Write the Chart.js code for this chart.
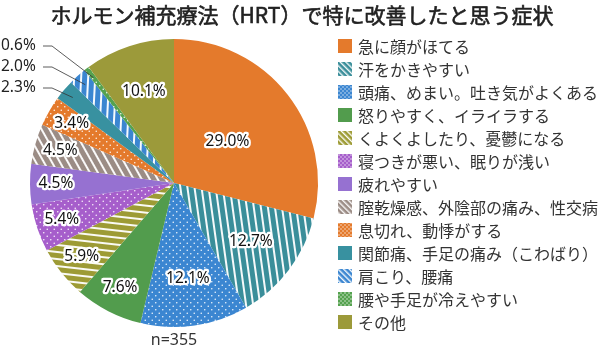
<!DOCTYPE html>
<html>
<head>
<meta charset="utf-8">
<script src="https://cdn.jsdelivr.net/npm/chart.js@4.4.1/dist/chart.umd.min.js"></script>
<style>
  html, body { margin: 0; padding: 0; background: #fff; }
</style>
</head>
<body>
<canvas id="hrtPie" width="600" height="348"></canvas>
<script>
const chartTitle = 'ホルモン補充療法（HRT）で特に改善したと思う症状';
const sampleNote = 'n=355';

const symptoms = [
  '急に顔がほてる',
  '汗をかきやすい',
  '頭痛、めまい。吐き気がよくある',
  '怒りやすく、イライラする',
  'くよくよしたり、憂鬱になる',
  '寝つきが悪い、眠りが浅い',
  '疲れやすい',
  '腟乾燥感、外陰部の痛み、性交病',
  '息切れ、動悸がする',
  '関節痛、手足の痛み（こわばり）',
  '肩こり、腰痛',
  '腰や手足が冷えやすい',
  'その他'
];
const shares = [29.0, 12.7, 12.1, 7.6, 5.9, 5.4, 4.5, 4.5, 3.4, 2.3, 2.0, 0.6, 10.1];

// fill colour and texture per slice
const sliceColors = ['#E47A2C', '#3A8E9A', '#3B86D1', '#529C4D', '#9D9B35', '#A65ECB',
                     '#9671D1', '#9B8C85', '#E47A2C', '#3891A0', '#3B86D1', '#55A24F', '#9C9A3A'];
const sliceTexture = ['solid', 'stripe', 'dots', 'solid', 'stripe', 'dots',
                      'solid', 'stripe', 'dots', 'solid', 'stripe', 'dots', 'solid'];

const cjk = '"Noto Sans CJK JP", "Noto Sans", sans-serif';
const num = '"Noto Sans", "Noto Sans CJK JP", sans-serif';

const canvas = document.getElementById('hrtPie');
const ctx = canvas.getContext('2d');

function stripeTile(color, period, lineW){
  const c = document.createElement('canvas');
  c.width = period; c.height = period;
  const g = c.getContext('2d');
  g.fillStyle = color; g.fillRect(0, 0, period, period);
  g.fillStyle = 'rgba(255,255,255,0.95)';
  g.fillRect(0, 0, lineW, period);
  return c;
}
function dotTile(color, step, r){
  const c = document.createElement('canvas');
  c.width = step; c.height = step;
  const g = c.getContext('2d');
  g.fillStyle = color; g.fillRect(0, 0, step, step);
  g.fillStyle = 'rgba(255,255,255,0.9)';
  [[step * 0.25, step * 0.25], [step * 0.75, step * 0.75]].forEach(([x, y]) => {
    g.beginPath(); g.arc(x, y, r, 0, Math.PI * 2); g.fill();
  });
  return c;
}
function makeFill(i, rotDeg, small){
  const col = sliceColors[i];
  if (sliceTexture[i] === 'stripe'){
    const p = ctx.createPattern(small ? stripeTile(col, 4, 1.4) : stripeTile(col, 7, 2), 'repeat');
    p.setTransform(new DOMMatrix().rotateSelf(rotDeg));
    return p;
  }
  if (sliceTexture[i] === 'dots'){
    return ctx.createPattern(small ? dotTile(col, 4, 0.7) : dotTile(col, 7, 0.8), 'repeat');
  }
  return col;
}

// stripes turn with their slice; a slice pointing left keeps the legend's diagonal
const total = shares.reduce((a, b) => a + b, 0);
let cum = 0;
const sliceFills = shares.map((v, i) => {
  const mid = (cum + v / 2) / total * 360;
  cum += v;
  return makeFill(i, (mid - 270) - 45, false);
});
const legendFills = shares.map((v, i) => makeFill(i, -45, true));

const labelPlugin = {
  id: 'sliceLabels',
  afterDatasetsDraw(chart){
    const c = chart.ctx;
    const arcs = chart.getDatasetMeta(0).data;
    const area = chart.chartArea;
    const outside = [];
    c.save();
    arcs.forEach((arc, i) => {
      const v = shares[i];
      const { x, y, startAngle, endAngle, outerRadius } = arc.getProps(['x', 'y', 'startAngle', 'endAngle', 'outerRadius'], true);
      const mid = (startAngle + endAngle) / 2;
      const txt = v.toFixed(1) + '%';
      if (v < 3){ outside.push({ i, x, y, mid, outerRadius, txt }); return; }
      const f = v >= 20 ? 0.47 : (v >= 10 ? 0.67 : 0.82);
      const lx = x + Math.cos(mid) * outerRadius * f;
      const ly = y + Math.sin(mid) * outerRadius * f;
      c.font = '15.5px ' + num;
      c.textAlign = 'center';
      c.textBaseline = 'middle';
      c.lineJoin = 'round';
      c.lineWidth = 4.5;
      c.strokeStyle = '#fff';
      c.strokeText(txt, lx, ly);
      c.fillStyle = '#111';
      c.fillText(txt, lx, ly);
    });
    // small slices get labels on the left with leader lines
    outside.reverse().forEach((o, k) => {
      const ty = area.top + 7 + k * 21;
      const tx = 1;
      const ex = o.x + Math.cos(o.mid) * o.outerRadius * 0.92;
      const ey = o.y + Math.sin(o.mid) * o.outerRadius * 0.92;
      c.font = '15.5px ' + num;
      c.textAlign = 'left';
      c.textBaseline = 'middle';
      c.fillStyle = '#222';
      c.fillText(o.txt, tx, ty);
      c.beginPath();
      c.moveTo(43, ty);
      c.lineTo(52, ty);
      c.lineTo(ex, ey);
      c.strokeStyle = '#333';
      c.lineWidth = 0.8;
      c.stroke();
    });
    c.restore();
  },
  afterDraw(chart){
    const c = chart.ctx;
    const area = chart.chartArea;
    c.save();
    // title, thickened a little with a thin stroke
    c.fillStyle = '#222';
    c.strokeStyle = '#222';
    c.lineWidth = 0.6;
    c.font = '21px ' + cjk;
    c.textAlign = 'center';
    c.textBaseline = 'middle';
    c.fillText(chartTitle, 302, 15);
    c.strokeText(chartTitle, 302, 15);

    c.font = '16px ' + num;
    c.fillStyle = '#333';
    c.fillText(sampleNote, (area.left + area.right) / 2, 340);

    // legend
    c.textAlign = 'left';
    c.font = '16px ' + cjk;
    symptoms.forEach((s, i) => {
      const y = 46 + i * 23;
      c.fillStyle = legendFills[i];
      c.fillRect(338, y - 7, 14, 14);
      c.fillStyle = '#333';
      c.fillText(s, 358, y + 1);
    });
    c.restore();
  }
};

new Chart(ctx, {
  type: 'pie',
  data: {
    labels: symptoms,
    datasets: [{
      data: shares,
      backgroundColor: sliceFills,
      borderWidth: 0
    }]
  },
  options: {
    responsive: false,
    animation: false,
    layout: { padding: { top: 39, bottom: 21, left: 20, right: 272 } },
    plugins: {
      legend: { display: false },
      title: { display: false },
      tooltip: { enabled: false }
    }
  },
  plugins: [labelPlugin]
});
</script>
</body>
</html>
